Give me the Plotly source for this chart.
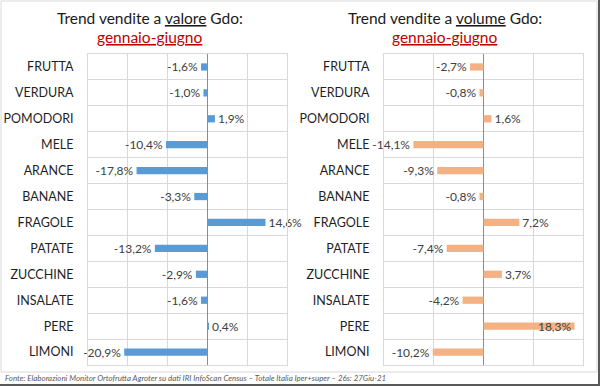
import plotly.graph_objects as go

categories = ["FRUTTA", "VERDURA", "POMODORI", "MELE", "ARANCE", "BANANE",
              "FRAGOLE", "PATATE", "ZUCCHINE", "INSALATE", "PERE", "LIMONI"]
valore = [-1.6, -1.0, 1.9, -10.4, -17.8, -3.3, 14.6, -13.2, -2.9, -1.6, 0.4, -20.9]
volume = [-2.7, -0.8, 1.6, -14.1, -9.3, -0.8, 7.2, -7.4, 3.7, -4.2, 18.3, -10.2]

W, H = 600, 386
FONT = "Lato"

def px(x):
    return x / W

def py(y):
    return 1 - y / H

def positions(vals, limit):
    # positive labels that would not fit beyond the bar end go inside, at the end
    return ["inside" if v > limit else "outside" for v in vals]

fig = go.Figure()

fig.add_trace(go.Bar(
    y=categories, x=valore, orientation="h", width=0.28,
    marker=dict(color="#5b9bd5", line=dict(width=0)),
    texttemplate="%{x:.1f}%", textposition=positions(valore, 16),
    insidetextanchor="end", constraintext="none", cliponaxis=False,
    textfont=dict(family=FONT, size=12, color="#404040"),
    insidetextfont=dict(family=FONT, size=12, color="#404040"),
    xaxis="x", yaxis="y", showlegend=False,
))
fig.add_trace(go.Bar(
    y=categories, x=volume, orientation="h", width=0.28,
    marker=dict(color="#f4b183", line=dict(width=0)),
    texttemplate="%{x:.1f}%", textposition=positions(volume, 16),
    insidetextanchor="end", constraintext="none", cliponaxis=False,
    textfont=dict(family=FONT, size=12, color="#404040"),
    insidetextfont=dict(family=FONT, size=12, color="#404040"),
    xaxis="x2", yaxis="y2", showlegend=False,
))

ydom = [py(365), py(54)]
common_x = dict(showticklabels=False, showgrid=True, gridcolor="#d9d9d9", gridwidth=1,
                zeroline=True, zerolinecolor="#8c8c8c", zerolinewidth=1,
                showline=True, linecolor="#d9d9d9", mirror=True, dtick=10, ticks="",
                automargin=False, fixedrange=True)
common_y = dict(type="category", autorange="reversed", tickson="boundaries",
                showgrid=True, gridcolor="#d9d9d9", gridwidth=1,
                showline=True, linecolor="#d9d9d9", mirror=True, ticks="",
                ticklabelstandoff=11, automargin=False, fixedrange=True,
                tickfont=dict(family=FONT, size=12.5, color="#1f1f1f"))

fig.update_layout(
    width=W, height=H,
    margin=dict(l=0, r=0, t=0, b=0),
    paper_bgcolor="white", plot_bgcolor="white",
    separators=",.",
    xaxis=dict(domain=[px(88), px(287)], range=[-30, 20], anchor="y", **common_x),
    yaxis=dict(domain=ydom, anchor="x", **common_y),
    xaxis2=dict(domain=[px(384), px(583)], range=[-20, 20], anchor="y2", **common_x),
    yaxis2=dict(domain=ydom, anchor="x2", **common_y),
)

annos = [
    dict(x=px(150), y=py(18), text="Trend vendite a <u>valore</u> Gdo:",
         font=dict(family=FONT, size=15.5, color="#1a1a1a")),
    dict(x=px(150), y=py(37), text="<u>gennaio-giugno</u>",
         font=dict(family=FONT, size=15.5, color="#c00000")),
    dict(x=px(445), y=py(18), text="Trend vendite a <u>volume</u> Gdo:",
         font=dict(family=FONT, size=15.5, color="#1a1a1a")),
    dict(x=px(445), y=py(37), text="<u>gennaio-giugno</u>",
         font=dict(family=FONT, size=15.5, color="#c00000")),
]
for a in annos:
    fig.add_annotation(xref="paper", yref="paper", showarrow=False,
                       xanchor="center", yanchor="middle", **a)

fig.add_annotation(
    xref="paper", yref="paper", x=px(3), y=py(378), xanchor="left", yanchor="middle",
    showarrow=False,
    text="<i>Fonte: Elaborazioni Monitor Ortofrutta Agroter su dati IRI InfoScan Census – Totale Italia Iper+super – 26s: 27Giu-21</i>",
    font=dict(family=FONT, size=7.9, color="#595959"),
)

# frame
fig.add_shape(type="rect", xref="paper", yref="paper",
              x0=px(1), x1=px(597), y0=py(372), y1=py(1),
              line=dict(color="#d9d9d9", width=1))
fig.add_shape(type="line", xref="paper", yref="paper",
              x0=px(599), x1=px(599), y0=py(386), y1=py(0),
              line=dict(color="#595959", width=2))
fig.add_shape(type="line", xref="paper", yref="paper",
              x0=px(0), x1=px(600), y0=py(385), y1=py(385),
              line=dict(color="#595959", width=2))

fig.write_html("out.html",
               config={"displayModeBar": False, "staticPlot": True},
               post_script="document.body.style.margin='0';document.body.style.overflow='hidden';")
